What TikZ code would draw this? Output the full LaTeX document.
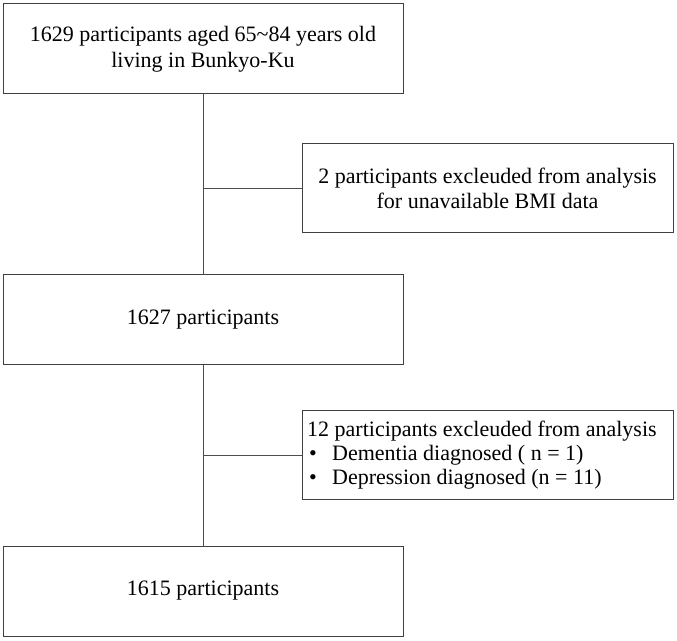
\documentclass[tikz,border=0pt]{standalone}
\usepackage{fontspec}
\setmainfont{Liberation Serif}
\begin{document}
\begin{tikzpicture}[x=1pt,y=1pt,
  box/.style={draw=black!75, line width=1pt, rectangle, inner sep=0pt, align=center,
    font=\fontsize{22}{25.5}\selectfont},
  conn/.style={draw=black!70, line width=1pt}]
\useasboundingbox (0,0) rectangle (677,640);
\node[box, minimum width=400, minimum height=90] (b1) at (203,591) {1629 participants aged 65\textasciitilde 84 years old\\living in Bunkyo-Ku};
\node[box, minimum width=371, minimum height=89] (b2) at (487.5,451.5) {2 participants excleuded from analysis\\for unavailable BMI data};
\node[box, minimum width=400, minimum height=90] (b3) at (203,320) {1627 participants};
\node[box, minimum width=371, minimum height=89] (b4) at (487.5,184.5) {};
\node[anchor=west, inner sep=0pt, align=left, font=\fontsize{22}{24}\selectfont] (t4) at (307,184.5) {12 participants excleuded from analysis\\\hspace*{2pt}\makebox[23pt][l]{\textbullet}Dementia diagnosed ( n = 1)\\\hspace*{2pt}\makebox[23pt][l]{\textbullet}Depression diagnosed (n = 11)};
\node[box, minimum width=400, minimum height=90] (b5) at (203,49) {1615 participants};
\coordinate (j1) at (b1.south |- b2.west);
\coordinate (j2) at (b3.south |- b4.west);
\draw[conn] (b1.south) -- (b3.north);
\draw[conn] (b3.south) -- (b5.north);
\draw[conn] (j1) -- (b2.west);
\draw[conn] (j2) -- (b4.west);
\end{tikzpicture}
\end{document}
